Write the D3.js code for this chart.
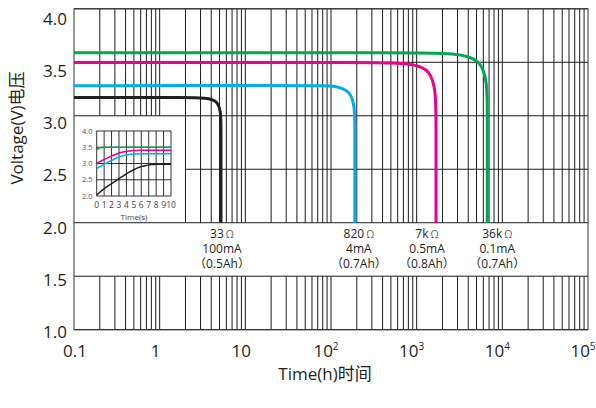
<!DOCTYPE html>
<html>
<head>
<meta charset="utf-8">
<script src="https://cdn.jsdelivr.net/npm/d3@7"></script>
<style>
	body { margin: 0; background: #fff; }
	text { font-family: 'Open Sans', 'Noto Sans CJK SC', sans-serif; fill: #231f20; }
</style>
</head>
<body>
<svg id="viz" width="596" height="408"></svg>
<script>
// main chart data (time in hours, voltage)
var seriesNames = [ 'black', 'blue', 'pink', 'green' ];
var seriesColors = [ '#231f20', '#00aeef', '#ec008c', '#00a651' ];
var blackPts = [ [ 0.1, 3.17 ], [ 2.45, 3.17 ], [ 5.2, 3.17 ], [ 5.2, 2.91 ], [ 5.2, 2.0 ] ];
var bluePts = [ [ 0.1, 3.28 ], [ 40, 3.285 ], [ 68, 3.28 ], [ 190, 3.28 ], [ 190, 2.9 ], [ 190, 2.0 ] ];
var pinkPts = [ [ 0.1, 3.497 ], [ 462, 3.497 ], [ 1680, 3.497 ], [ 1680, 2.97 ], [ 1680, 2.0 ] ];
var greenPts = [ [ 0.1, 3.59 ], [ 1510, 3.59 ], [ 6670, 3.585 ], [ 6670, 3.07 ], [ 6670, 2.0 ] ];
var seriesLabels = [
	[ '33Ω', '100mA', '（0.5Ah）' ],
	[ '820Ω', '4mA', '（0.7Ah）' ],
	[ '7kΩ', '0.5mA', '（0.8Ah）' ],
	[ '36kΩ', '0.1mA', '（0.7Ah）' ]
];
var xTicks = [ 0.1, 1, 10, 100, 1000, 10000, 100000 ];
var xTickLabels = [ [ '0.1', '' ], [ '1', '' ], [ '10', '' ], [ '10', '2' ], [ '10', '3' ], [ '10', '4' ], [ '10', '5' ] ];
var yTicks = [ 1.0, 1.5, 2.0, 2.5, 3.0, 3.5, 4.0 ];

// inset data (time in seconds, voltage)
var insetBlack = [ [ 0, 2.03 ], [ 1.1, 2.24 ], [ 2, 2.38 ], [ 2.7, 2.49 ], [ 3.6, 2.62 ], [ 4.5, 2.75 ], [ 5.2, 2.83 ], [ 5.8, 2.89 ], [ 6.5, 2.93 ], [ 7.2, 2.96 ], [ 8.1, 2.975 ], [ 10, 2.98 ] ];
var insetBlue = [ [ 0, 2.85 ], [ 0.8, 2.95 ], [ 1.6, 3.05 ], [ 2.4, 3.14 ], [ 3.1, 3.21 ], [ 4, 3.26 ], [ 4.7, 3.29 ], [ 6, 3.3 ], [ 10, 3.3 ] ];
var insetPink = [ [ 0, 3.0 ], [ 0.8, 3.1 ], [ 1.6, 3.19 ], [ 2.4, 3.27 ], [ 3.1, 3.33 ], [ 4, 3.37 ], [ 4.7, 3.395 ], [ 6, 3.405 ], [ 10, 3.41 ] ];
var insetGreen = [ [ 0, 3.42 ], [ 0.3, 3.47 ], [ 0.7, 3.49 ], [ 1.5, 3.5 ], [ 10, 3.5 ] ];
var insetXTicks = [ 0, 1, 2, 3, 4, 5, 6, 7, 8, 9, 10 ];
var insetYTicks = [ 2.0, 2.5, 3.0, 3.5, 4.0 ];

var svg = d3.select( '#viz' );

var x = d3.scaleLog().domain( [ 0.1, 100000 ] ).range( [ 74, 588 ] );
var y = d3.scaleLinear().domain( [ 1, 4 ] ).range( [ 329.7, 8.8 ] );
// tick labels in the original sit on a slightly tighter spacing than the grid
var yLab = d3.scaleLinear().domain( [ 1, 4 ] ).range( [ 332, 18.5 ] );

var gridColor = '#1c1c1c';

// all vertical grid values 0.2 .. 90000
var vals = [];
for ( var e = -1; e <= 4; e++ ) {
	for ( var m = 1; m <= 9; m++ ) {
		var v = m * Math.pow( 10, e );
		if ( v > 0.1 + 1e-9 ) vals.push( +v.toPrecision( 3 ) );
	}
}

var grid = svg.append( 'g' );

// horizontal lines
grid.selectAll( 'line.h' )
	.data( yTicks )
	.enter()
	.append( 'line' )
	.attr( 'x1', function ( d ) { return d === 2.5 ? x( 2 ) : x( 0.1 ); } )
	.attr( 'x2', x( 100000 ) )
	.attr( 'y1', function ( d ) { return y( d ); } )
	.attr( 'y2', function ( d ) { return y( d ); } )
	.attr( 'stroke', gridColor )
	.attr( 'stroke-width', 1 );

// vertical lines, upper part (skips the inset box and the label band)
grid.selectAll( 'line.vu' )
	.data( vals )
	.enter()
	.append( 'line' )
	.attr( 'x1', function ( d ) { return x( d ); } )
	.attr( 'x2', function ( d ) { return x( d ); } )
	.attr( 'y1', y( 4 ) )
	.attr( 'y2', function ( d ) { return d < 2 ? y( 3 ) : y( 2 ); } )
	.attr( 'stroke', gridColor )
	.attr( 'stroke-width', 1 );

// vertical lines, lower part
grid.selectAll( 'line.vl' )
	.data( vals )
	.enter()
	.append( 'line' )
	.attr( 'x1', function ( d ) { return x( d ); } )
	.attr( 'x2', function ( d ) { return x( d ); } )
	.attr( 'y1', y( 1.5 ) )
	.attr( 'y2', y( 1 ) )
	.attr( 'stroke', gridColor )
	.attr( 'stroke-width', 1 );

// frame
svg.append( 'rect' )
	.attr( 'x', x( 0.1 ) )
	.attr( 'y', y( 4 ) )
	.attr( 'width', x( 100000 ) - x( 0.1 ) )
	.attr( 'height', y( 1 ) - y( 4 ) )
	.attr( 'fill', 'none' )
	.attr( 'stroke', '#333' )
	.attr( 'stroke-width', 1 );

// curves
var line = d3.line()
	.x( function ( d ) { return x( d[0] ); } )
	.y( function ( d ) { return y( d[1] ); } )
	.curve( d3.curveBasis );

var allPts = [ blackPts, bluePts, pinkPts, greenPts ];

svg.selectAll( 'path.curve' )
	.data( allPts )
	.enter()
	.append( 'path' )
	.classed( 'curve', true )
	.attr( 'd', line )
	.attr( 'fill', 'none' )
	.attr( 'stroke', function ( d, i ) { return seriesColors[i]; } )
	.attr( 'stroke-width', 3 );

// curve annotations, the ohm sign is set apart in a lighter face
var labelDx = [ 1, 4, -9, 10 ];
allPts.forEach( function ( pts, i ) {
	var cx = x( pts[ pts.length - 1 ][0] ) + labelDx[i];
	var t = svg.append( 'g' ).selectAll( 'text' )
		.data( seriesLabels[i] )
		.enter()
		.append( 'text' )
		.attr( 'x', cx )
		.attr( 'y', function ( d, j ) { return y( 2 ) + 15 + j * 15; } )
		.attr( 'text-anchor', 'middle' )
		.style( 'font-size', '12px' );
	t.append( 'tspan' ).text( function ( d ) { return d.replace( 'Ω', '' ); } );
	t.filter( function ( d ) { return d.indexOf( 'Ω' ) >= 0; } )
		.append( 'tspan' )
		.attr( 'dx', 2 )
		.style( 'font-family', 'Noto Sans CJK SC' )
		.style( 'font-weight', 300 )
		.style( 'font-size', '11px' )
		.text( 'Ω' );
} );

// y tick labels
svg.selectAll( 'text.ylab' )
	.data( yTicks )
	.enter()
	.append( 'text' )
	.classed( 'ylab', true )
	.attr( 'x', 67 )
	.attr( 'y', function ( d ) { return yLab( d ); } )
	.attr( 'dy', '0.36em' )
	.attr( 'text-anchor', 'end' )
	.style( 'font-size', '17px' )
	.text( function ( d ) { return d.toFixed( 1 ); } );

// x tick labels
var xl = svg.selectAll( 'text.xlab' )
	.data( xTicks )
	.enter()
	.append( 'text' )
	.classed( 'xlab', true )
	.attr( 'x', function ( d, i ) { return x( d ) + ( i === 0 ? 1 : ( xTickLabels[i][1] ? -5 : -4 ) ); } )
	.attr( 'y', 357 )
	.attr( 'text-anchor', 'middle' )
	.style( 'font-size', '17px' );
xl.append( 'tspan' ).text( function ( d, i ) { return xTickLabels[i][0]; } );
xl.append( 'tspan' )
	.attr( 'dy', -7 )
	.style( 'font-size', '10px' )
	.text( function ( d, i ) { return xTickLabels[i][1]; } );

// axis titles
svg.append( 'text' )
	.attr( 'x', 325 )
	.attr( 'y', 380 )
	.attr( 'text-anchor', 'middle' )
	.style( 'font-size', '17px' )
	.text( 'Time(h)时间' );

svg.append( 'text' )
	.attr( 'transform', 'translate(23,128) rotate(-90)' )
	.attr( 'text-anchor', 'middle' )
	.style( 'font-size', '17px' )
	.text( 'Voltage(V)电压' );

// inset chart
var ix = d3.scaleLinear().domain( [ 0, 10 ] ).range( [ 96.7, 171 ] );
var iy = d3.scaleLinear().domain( [ 2, 4 ] ).range( [ 196, 131 ] );
var inset = svg.append( 'g' );

inset.selectAll( 'line.ih' )
	.data( insetYTicks )
	.enter()
	.append( 'line' )
	.attr( 'x1', ix( 0 ) )
	.attr( 'x2', ix( 10 ) )
	.attr( 'y1', function ( d ) { return iy( d ); } )
	.attr( 'y2', function ( d ) { return iy( d ); } )
	.attr( 'stroke', gridColor )
	.attr( 'stroke-width', 0.9 );

inset.selectAll( 'line.iv' )
	.data( insetXTicks )
	.enter()
	.append( 'line' )
	.attr( 'x1', function ( d ) { return ix( d ); } )
	.attr( 'x2', function ( d ) { return ix( d ); } )
	.attr( 'y1', iy( 4 ) )
	.attr( 'y2', iy( 2 ) )
	.attr( 'stroke', gridColor )
	.attr( 'stroke-width', 0.9 );

var iline = d3.line()
	.x( function ( d ) { return ix( d[0] ); } )
	.y( function ( d ) { return iy( d[1] ); } )
	.curve( d3.curveMonotoneX );

inset.selectAll( 'path.icurve' )
	.data( [ insetBlack, insetBlue, insetPink, insetGreen ] )
	.enter()
	.append( 'path' )
	.attr( 'd', iline )
	.attr( 'fill', 'none' )
	.attr( 'stroke', function ( d, i ) { return seriesColors[i]; } )
	.attr( 'stroke-width', 1.5 );

inset.selectAll( 'text.iylab' )
	.data( insetYTicks )
	.enter()
	.append( 'text' )
	.attr( 'x', 92.5 )
	.attr( 'y', function ( d ) { return iy( d ); } )
	.attr( 'dy', '0.36em' )
	.attr( 'text-anchor', 'end' )
	.style( 'font-size', '7.5px' )
	.style( 'fill', '#555' )
	.text( function ( d ) { return d.toFixed( 1 ); } );

inset.selectAll( 'text.ixlab' )
	.data( insetXTicks )
	.enter()
	.append( 'text' )
	.attr( 'x', function ( d ) { return ix( d ); } )
	.attr( 'y', 208 )
	.attr( 'text-anchor', 'middle' )
	.style( 'font-size', '8.5px' )
	.style( 'fill', '#444' )
	.text( function ( d ) { return d; } );

inset.append( 'text' )
	.attr( 'x', 134 )
	.attr( 'y', 219.5 )
	.attr( 'text-anchor', 'middle' )
	.style( 'font-size', '8px' )
	.style( 'fill', '#444' )
	.text( 'Time(s)' );
</script>
</body>
</html>
